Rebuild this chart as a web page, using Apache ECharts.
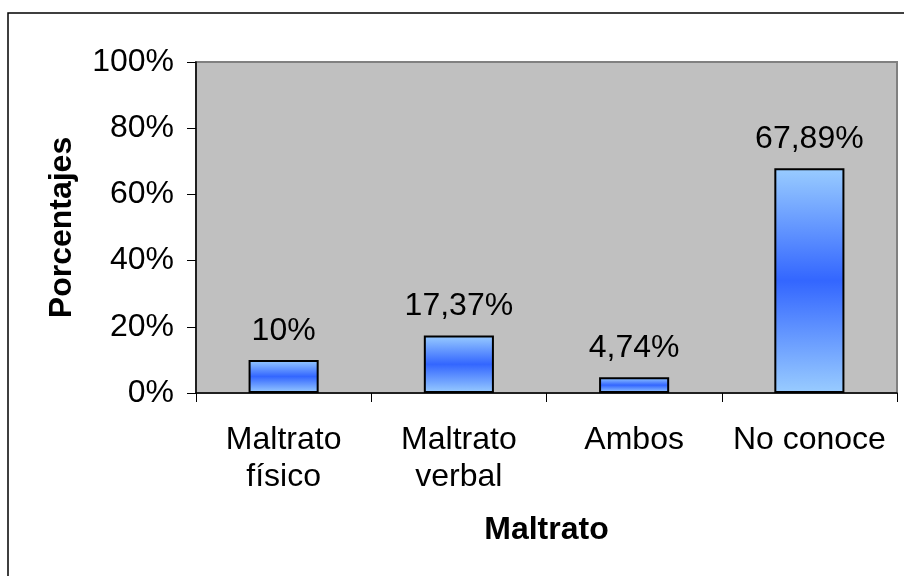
<!DOCTYPE html>
<html>
<head>
<meta charset="utf-8">
<script src="https://cdn.jsdelivr.net/npm/echarts@6/dist/echarts.min.js"></script>
<style>
    html, body { margin: 0; padding: 0; background: #fff; }
    #chart { width: 904px; height: 576px; }
</style>
</head>
<body>
<div id="chart"></div>
<script>
// datos
const categories = ['Maltrato\nfísico', 'Maltrato\nverbal', 'Ambos', 'No conoce'];
const porcentajes = [10, 17.37, 4.74, 67.89];
const yTicks = { min: 0, max: 100, step: 20 };

const font = 'Liberation Sans, Arial, sans-serif';

let myChart = echarts.init(document.getElementById('chart'), null, { renderer: 'canvas' });

// degradado vertical de cada barra: claro - azul - claro
const barGradient = new echarts.graphic.LinearGradient(0, 0, 0, 1, [
    { offset: 0, color: '#99CCFF' },
    { offset: 0.5, color: '#3366FF' },
    { offset: 1, color: '#99CCFF' }
]);

let option = {
    animation: false,
    backgroundColor: '#ffffff',
    textStyle: { fontFamily: font },
    graphic: [
        { // marco exterior
            type: 'rect',
            shape: { x: 8, y: 13, width: 1000, height: 1000 },
            style: { fill: 'none', stroke: '#000', lineWidth: 1.5 }
        }
    ],
    grid: {
        left: 196,
        right: 7,
        top: 62,
        bottom: 183,
        show: true,
        backgroundColor: '#C0C0C0',
        borderColor: '#808080',
        borderWidth: 2
    },
    xAxis: {
        type: 'category',
        data: categories,
        name: 'Maltrato',
        nameLocation: 'middle',
        nameGap: 121,
        nameTextStyle: { fontSize: 32, fontWeight: 'bold', color: '#000', fontFamily: font },
        axisLine: { lineStyle: { color: '#000', width: 1.5 } },
        axisTick: { show: true, length: 9, lineStyle: { color: '#000' } },
        axisLabel: {
            interval: 0,
            hideOverlap: false,
            fontSize: 32,
            color: '#000',
            margin: 29,
            lineHeight: 37,
            fontFamily: font
        }
    },
    yAxis: {
        type: 'value',
        min: yTicks.min,
        max: yTicks.max,
        interval: yTicks.step,
        name: 'Porcentajes',
        nameLocation: 'middle',
        nameGap: 118,
        nameRotate: 90,
        nameTextStyle: { fontSize: 32, fontWeight: 'bold', color: '#000', fontFamily: font },
        axisLine: { show: true, lineStyle: { color: '#000', width: 1.5 } },
        axisTick: { show: true, length: 9, lineStyle: { color: '#000' } },
        axisLabel: { fontSize: 32, color: '#000', margin: 22, formatter: '{value}%', fontFamily: font },
        splitLine: { show: false }
    },
    series: [
        {
            type: 'bar',
            data: porcentajes,
            barWidth: '40%',
            itemStyle: {
                color: barGradient,
                borderColor: '#000',
                borderWidth: 2
            },
            label: {
                show: true,
                position: 'top',
                distance: 13,
                fontSize: 32,
                color: '#000',
                fontFamily: font,
                formatter: p => String(p.value).replace('.', ',') + '%'
            }
        }
    ]
};
myChart.setOption(option);
</script>
</body>
</html>
